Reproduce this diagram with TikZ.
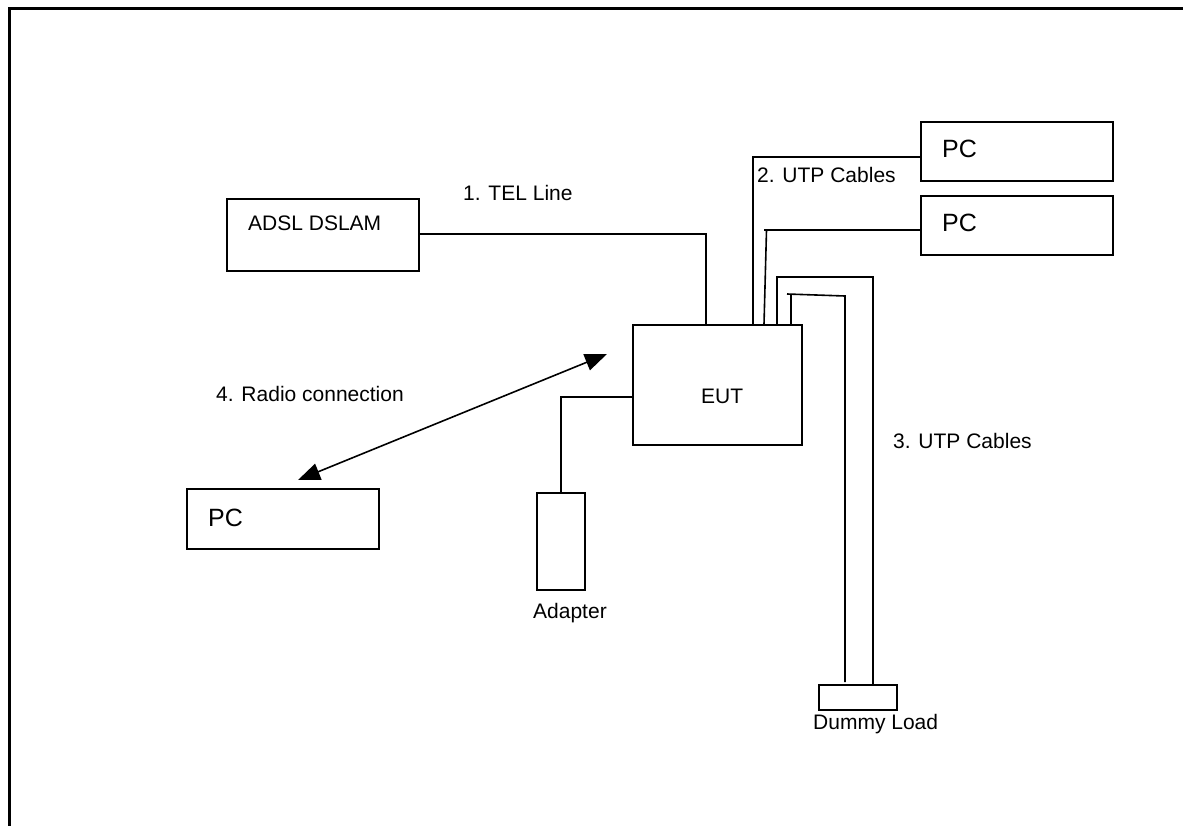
\documentclass[tikz,border=0pt]{standalone}
\usepackage{fontspec}
\setmainfont{Liberation Sans}
\usetikzlibrary{arrows.meta}
\begin{document}
\begin{tikzpicture}[x=1pt,y=-1pt,
  box/.style={draw, rectangle, line width=1.6pt, inner sep=0pt},
  wire/.style={line width=1.6pt},
  lbl/.style={inner sep=0pt, anchor=west, text height=15pt, text depth=0pt, font=\fontsize{21}{25}\selectfont},
  pclbl/.style={inner sep=0pt, anchor=west, text height=18pt, text depth=0pt, font=\fontsize{25}{30}\selectfont},
  radioarrow/.style={line width=1.6pt, {Triangle[length=22pt,width=17pt]}-{Triangle[length=22pt,width=17pt]}}
]
\useasboundingbox (0,0) rectangle (1183,825);
% frame
\draw[line width=3pt] (9,826) -- (9,8) -- (1184,8);

% boxes
\node[box, minimum width=192pt, minimum height=72pt] (dslam) at (323,235) {};
\node[box, minimum width=192pt, minimum height=59pt] (pc1) at (1017,151.5) {};
\node[box, minimum width=192pt, minimum height=59pt] (pc2) at (1017,225.5) {};
\node[box, minimum width=192pt, minimum height=60pt] (pc3) at (283,519) {};
\node[box, minimum width=169pt, minimum height=120pt] (eut) at (717.5,385) {};
\node[box, minimum width=48pt, minimum height=97pt] (adapter) at (561,541.5) {};
\node[box, minimum width=78pt, minimum height=25pt] (dummy) at (858,697.5) {};

% texts
\node[lbl] (tdslam) at (248,223) {ADSL DSLAM};
\node[lbl] (ttel) at (463,193) {1. TEL Line};
\node[lbl] (tutp2) at (757,175) {2. UTP Cables};
\node[lbl] (tutp3) at (893,441) {3. UTP Cables};
\node[lbl] (tradio) at (216,394) {4. Radio connection};
\node[lbl] (teut) at (701,396) {EUT};
\node[lbl] (tadapter) at (533,611) {Adapter};
\node[lbl] (tdummy) at (813,722) {Dummy Load};
\node[pclbl] (tpc1) at (942,148) {PC};
\node[pclbl] (tpc2) at (942,222) {PC};
\node[pclbl] (tpc3) at (208,517) {PC};

% TEL line
\draw[wire] (dslam.east |- 0,234) -| ([xshift=-11.5pt]eut.north);
% UTP cables to PCs
\draw[wire] ([xshift=35.5pt]eut.north) |- ([yshift=-5.5pt]pc1.west);
\coordinate (b1) at (766.5,230);
\draw[wire] ([xshift=46.5pt]eut.north) -- (b1);
\draw[wire] ([xshift=-2.5pt]b1) -- (b1 -| pc2.west);
% UTP cables to dummy load
\coordinate (c1) at (873,277);
\draw[wire] ([xshift=59.5pt]eut.north) |- (c1) -- (c1 |- dummy.north);
\coordinate (d1) at (791,294);
\coordinate (d2) at (845,296);
\draw[wire] ([xshift=73.5pt]eut.north) -- (d1);
\draw[wire] ([xshift=-4pt]d1) -- (d2) -- ([yshift=2pt]d2 |- dummy.north);
% adapter
\draw[wire] (adapter.north) |- ([yshift=-12pt]eut.west);
% radio
\coordinate (r1) at (298,480);
\coordinate (r2) at (607,354);
\draw[radioarrow] (r1) -- (r2);
\end{tikzpicture}
\end{document}
